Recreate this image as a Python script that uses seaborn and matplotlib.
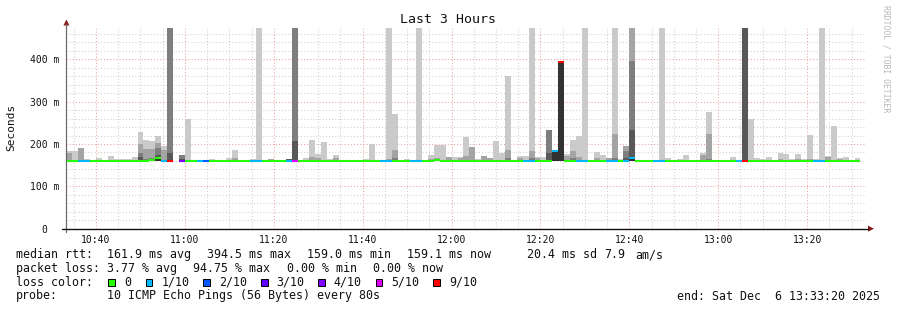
import numpy as np
import pandas as pd
import matplotlib
matplotlib.use("Agg")
import matplotlib.pyplot as plt
import matplotlib.dates as mdates
from matplotlib.ticker import MultipleLocator, FuncFormatter
from matplotlib.transforms import IdentityTransform
from matplotlib.patches import Rectangle, Polygon
from matplotlib.lines import Line2D
import seaborn as sns

W, H = 897, 310
sns.set_theme(style="white")
plt.rcParams['font.family'] = ['DejaVu Sans Mono', 'DejaVu Sans']

# ---------------- data ----------------
start_time = "2025-12-06 10:33:20"
step_seconds = 80
n_steps = 135

# median rtt per step (ms), None = no data
median_ms = [
    161, 161, 161, 161, 161, 161, 161, 161, 161, 161,
    161, 161, 161, 161, 162, 167, 161, 161, None, 161,
    161, 159, 161, 161, 161, 159, 161, 161, 161, 161,
    161, 161, 161, 161, 161, 159, 159, 161, 161, 161,
    161, 161, 161, 161, 161, 161, 161, 161, 161, 161,
    161, 161, 161, 161, 161, 161, 161, 161, 159, 161,
    161, 161, 162, 161, 161, 161, 161, 161, 161, 161,
    161, 161, 159, 161, 161, 161, 161, 161, 161, 161,
    161, 161, 183, 394, 161, 161, 161, 161, 161, 161,
    161, 161, 161, 161, 161, 166, 159, 161, 161, 161,
    161, 161, 161, 161, 161, 159, 161, 161, 161, 161,
    161, 161, 161, 161, 161, 159, 159, 161, 159, 161,
    161, 161, 161, 161, 161, 159, 161, 161, 161, 161,
    161, 161, 161, 161, None,
]

# lost pings out of 10 per step
loss_count = [
    0, 0, 1, 1, 0, 0, 0, 0, 0, 0,
    0, 0, 0, 0, 0, 0, 1, 9, None, 4,
    0, 0, 1, 2, 0, 0, 0, 0, 0, 0,
    0, 1, 1, 0, 0, 0, 0, 1, 5, 0,
    0, 0, 0, 0, 0, 0, 0, 0, 0, 0,
    0, 0, 0, 1, 1, 0, 0, 0, 1, 1,
    0, 0, 0, 0, 0, 0, 0, 0, 0, 0,
    0, 0, 0, 0, 0, 0, 0, 1, 1, 0,
    0, 0, 1, 9, 0, 0, 1, 1, 0, 0,
    0, 1, 1, 0, 1, 1, 0, 0, 0, 1,
    1, 0, 0, 0, 0, 0, 0, 0, 0, 0,
    0, 0, 0, 1, 9, 0, 0, 0, 0, 0,
    0, 0, 0, 0, 0, 0, 1, 1, 0, 0,
    0, 0, 0, 0, None,
]

# smoke: highest ping per step (outermost, lightest band)
ping_max = [
    183, 183, 190, 165, 163, 167, None, 172, 165, 165,
    165, 169, 228, 210, 207, 219, 195, 480, None, 174,
    260, None, None, None, 165, None, None, 167, 185, None,
    None, 165, 480, None, 165, None, None, 165, 480, None,
    167, 210, 176, 205, 165, 174, None, None, None, None,
    165, 200, None, None, 480, 271, None, 165, None, 480,
    None, 174, 198, 198, 170, 169, 169, 217, 194, 165,
    171, 167, 207, 179, 360, None, 171, 171, 480, 169,
    169, 232, 183, 394, 176, 209, 219, 480, None, 180,
    174, 167, 480, 165, 195, 480, None, None, None, None,
    480, 167, None, 165, 174, None, None, 179, 276, None,
    None, None, 169, None, 480, 260, 167, 165, 169, None,
    179, 176, 165, 176, 165, 221, 165, 480, 172, 243,
    167, 169, None, 167, None,
]

# second highest ping per step
ping_9th = [
    179, None, 190, None, None, None, None, None, None, None,
    None, None, 200, 188, 187, 202, 186, 480, None, 174,
    None, None, None, None, None, None, None, None, 167, None,
    None, None, None, None, 165, None, None, 165, 480, None,
    None, 169, 167, None, None, 168, None, None, None, None,
    None, None, None, None, 165, 185, None, None, None, None,
    None, 165, 167, None, 170, None, 167, 172, 194, None,
    171, 167, None, None, 185, None, 168, None, 183, 167,
    None, 232, 183, 394, 171, 183, 169, None, None, 167,
    None, 167, 224, None, 195, 480, None, None, None, None,
    None, None, None, None, None, None, None, 174, 224, None,
    None, None, None, None, 480, None, None, None, None, None,
    165, None, None, 165, None, 165, None, None, 169, None,
    165, None, None, None, None,
]

# inner pings (sparse: step -> ms)
ping_8th = {12: 179, 13: 165, 14: 168, 15: 190, 17: 480, 19: 174, 37: 165,
            38: 480, 55: 167, 74: 167, 78: 167, 81: 232, 82: 183, 83: 394,
            85: 167, 92: 167, 94: 183, 95: 396, 108: 165, 114: 480}
ping_7th = {12: 169, 15: 173, 17: 179, 19: 165, 37: 164, 38: 207, 81: 179,
            82: 183, 83: 394, 94: 167, 95: 234, 114: 480}
ping_6th = {15: 168, 82: 181, 83: 394, 95: 169}
smoke_floor = 159.0

loss_labels = ["0", "1/10", "2/10", "3/10", "4/10", "5/10", "9/10"]
loss_values = [0, 1, 2, 3, 4, 5, 9]
loss_colors = ["#26ff00", "#00b8ff", "#0059ff", "#5e00ff", "#7e00ff", "#dd00ff", "#ff0000"]

y_ticks = [0, 100, 200, 300, 400]
title = "Last 3 Hours"

# ---------------- figure ----------------
fig = plt.figure(figsize=(W / 100, H / 100), dpi=100)
fig.patch.set_facecolor("white")
ax_left, ax_right, ax_top, ax_bot = 66.4, 866.4, 27.5, 228.7
ax = fig.add_axes([ax_left / W, 1 - ax_bot / H, (ax_right - ax_left) / W, (ax_bot - ax_top) / H])
ax.set_facecolor("white")

times = pd.date_range(start_time, periods=n_steps, freq=f"{step_seconds}s")
xs = mdates.date2num(times.to_pydatetime())
bw = step_seconds / 86400.0
ax.set_xlim(xs[0], xs[0] + n_steps * bw)
ax.set_ylim(0, 475)


def to_full(d):
    return [d.get(i) for i in range(n_steps)]


bands = [
    (ping_max, "#cacaca"),
    (ping_9th, "#a4a4a4"),
    (to_full(ping_8th), "#7e7e7e"),
    (to_full(ping_7th), "#585858"),
    (to_full(ping_6th), "#323232"),
]
for vals, col in bands:
    arr = np.array([np.nan if v is None else v for v in vals], dtype=float)
    m = ~np.isnan(arr)
    ax.bar(xs[m], arr[m] - smoke_floor, bottom=smoke_floor, width=bw, align="edge",
           color=col, linewidth=0, zorder=2)

cmap = dict(zip(loss_values, loss_colors))
for i in range(n_steps):
    if median_ms[i] is None:
        continue
    ax.hlines(median_ms[i], xs[i], xs[i] + bw, colors=cmap[loss_count[i]],
              linewidth=1.5, zorder=4, capstyle="butt")

# grid
ax.xaxis.set_major_locator(mdates.MinuteLocator(byminute=[0, 20, 40]))
ax.xaxis.set_minor_locator(mdates.MinuteLocator(byminute=range(0, 60, 5)))
ax.xaxis.set_major_formatter(mdates.DateFormatter("%H:%M"))
ax.yaxis.set_major_locator(MultipleLocator(100))
ax.yaxis.set_minor_locator(MultipleLocator(20))
ax.yaxis.set_major_formatter(FuncFormatter(lambda v, p: "0  " if v == 0 else f"{int(v)} m"))
ax.set_axisbelow(True)
ax.grid(which="minor", color="#cfcfcf", linestyle=(0, (1, 2)), linewidth=0.75)
ax.grid(which="major", color="#eea0a0", linestyle=(0, (1, 2)), linewidth=0.75)
ax.tick_params(axis="both", which="both", length=0, labelsize=7, colors="#111111")
ax.tick_params(axis="x", pad=4.5)
ax.tick_params(axis="y", pad=5)
for s in ax.spines.values():
    s.set_visible(False)

T = IdentityTransform()


def P(x, y):
    return (x, H - y)


# axes lines and arrows
fig.add_artist(Line2D([66.4, 66.4], [H - 232, H - 24], transform=T, color="#6a6a6a", lw=0.9))
fig.add_artist(Line2D([62, 868], [H - 228.7, H - 228.7], transform=T, color="#111111", lw=1.0))
fig.add_artist(Polygon([P(63.4, 25.5), P(69.4, 25.5), P(66.4, 19.5)], closed=True,
                       transform=T, color="#8b1a1a", lw=0))
fig.add_artist(Polygon([P(868, 225.7), P(868, 231.7), P(874, 228.7)], closed=True,
                       transform=T, color="#8b1a1a", lw=0))

# title / labels
fig.text(447.5 / W, 1 - 19.5 / H, title, ha="center", va="center", fontsize=9.5, color="#111111")
fig.text(11 / W, 1 - 127 / H, "Seconds", rotation=90, ha="center", va="center", fontsize=8, color="#111111")
fig.text(886 / W, 1 - 5 / H, "RRDTOOL / TOBI OETIKER", rotation=270, ha="center", va="top",
         fontsize=5.9, color="#b8b8b8")

fs = 8.4
rows = [
    (254.7, [(16, "median rtt:"), (107.3, "161.9 ms avg"), (207.3, "394.5 ms max"),
             (307.3, "159.0 ms min"), (406.7, "159.1 ms now"), (527.3, "20.4 ms sd"),
             (604.3, "7.9"), (635.7, "am/s")]),
    (268.3, [(16, "packet loss:"), (107.3, "3.77 % avg"), (193.3, "94.75 % max"),
             (286.7, "0.00 % min"), (372.7, "0.00 % now")]),
    (296.0, [(16, "probe:"), (107.3, "10 ICMP Echo Pings (56 Bytes) every 80s")]),
]
for y, items in rows:
    for x, s in items:
        fig.text(x / W, 1 - y / H, s, ha="left", va="center", fontsize=fs, color="#111111")
fig.text(880 / W, 1 - 296.0 / H, "end: Sat Dec  6 13:33:20 2025", ha="right", va="center",
         fontsize=fs, color="#111111")

fig.text(16 / W, 1 - 282.3 / H, "loss color:", ha="left", va="center", fontsize=fs, color="#111111")
sq_x = [108.3, 145.7, 203.3, 261.0, 318.3, 375.7, 433.3]
for x, lab, col in zip(sq_x, loss_labels, loss_colors):
    fig.add_artist(Rectangle((x, H - 286), 6.7, 6.7, transform=T, facecolor=col,
                             edgecolor="#000000", lw=0.7))
    fig.text((x + 15.5) / W, 1 - 282.3 / H, lab, ha="left", va="center", fontsize=fs, color="#111111")

fig.savefig("out.png", dpi=100, facecolor="white")
